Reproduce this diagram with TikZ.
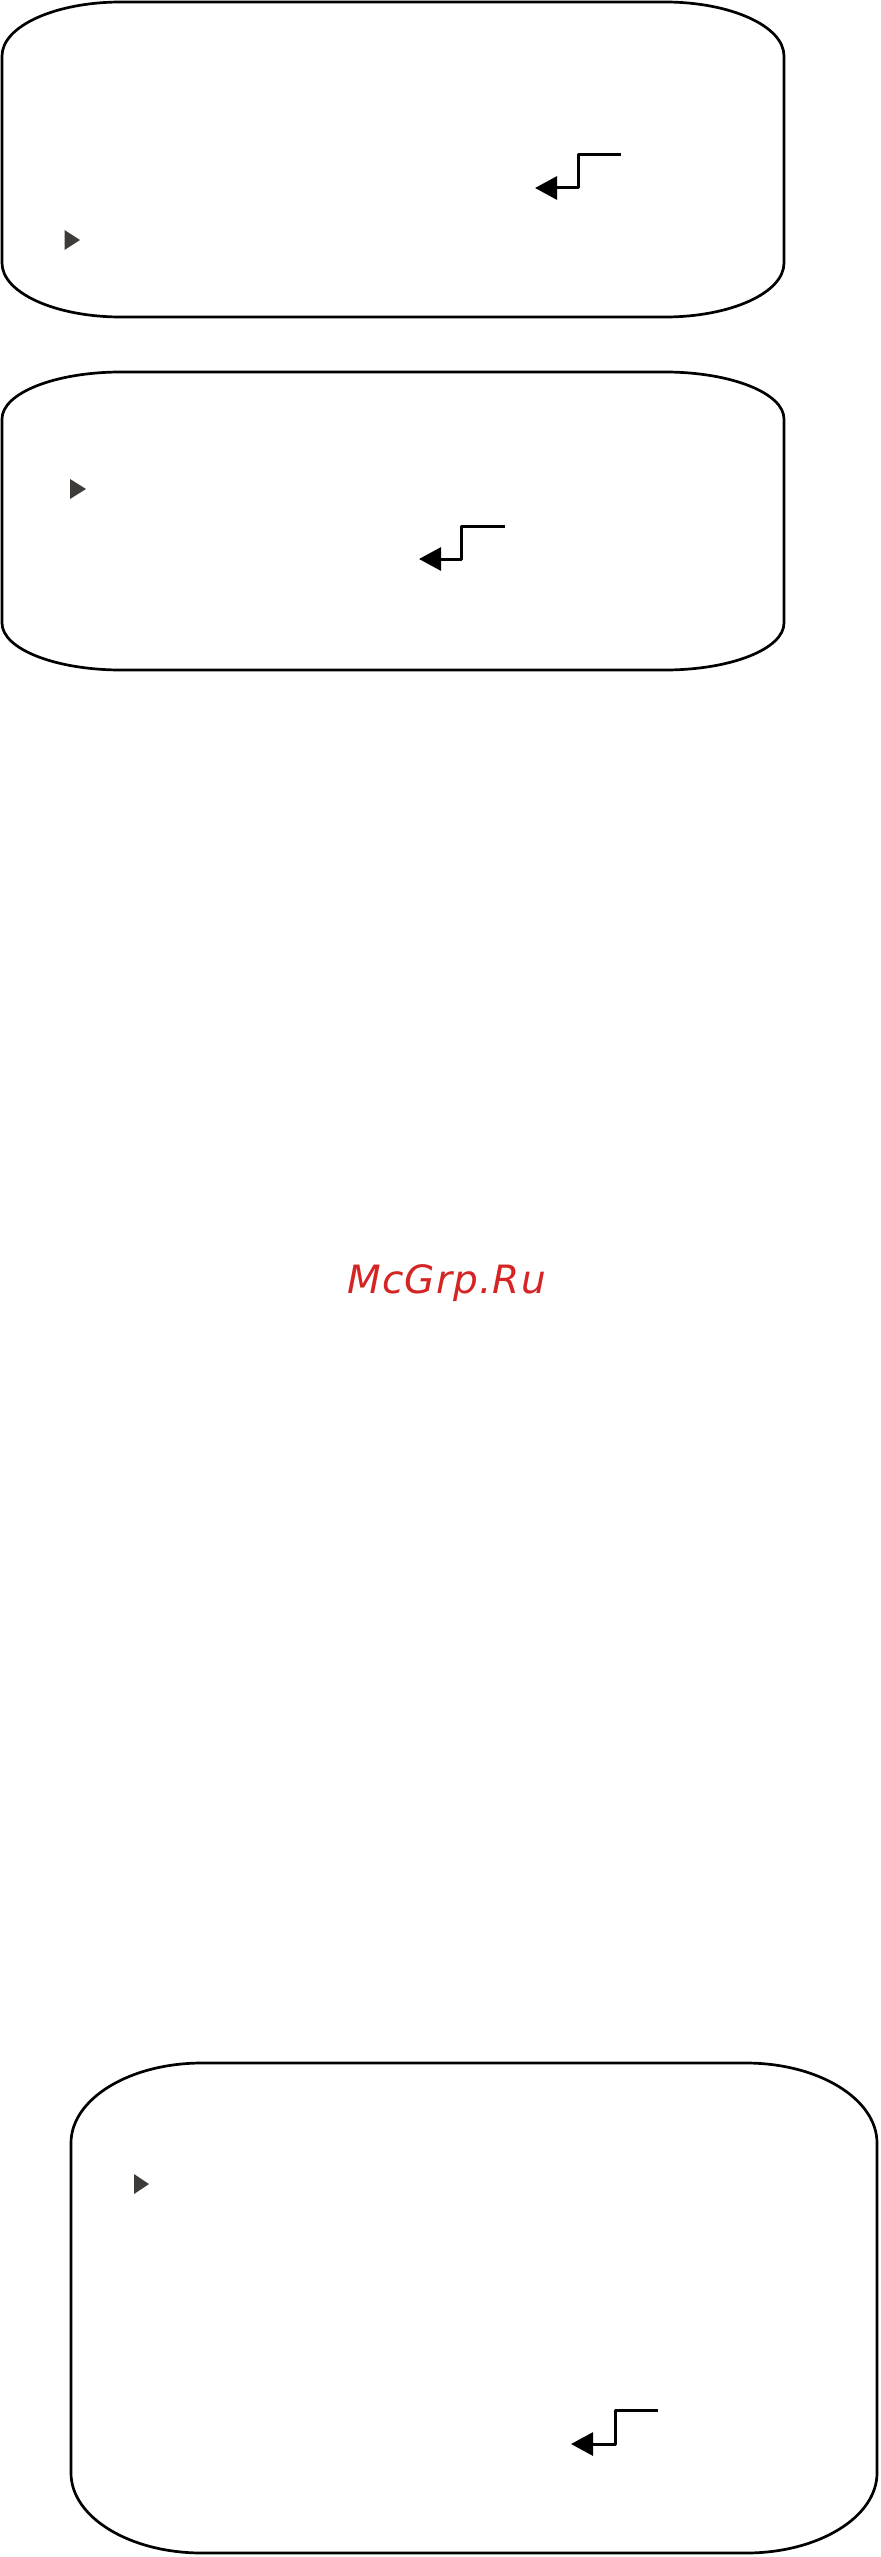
\documentclass[tikz,border=0pt]{standalone}
\usepackage{fontspec}
\usetikzlibrary{arrows.meta}
\newfontfamily\markfont[LetterSpace=3]{DejaVu Sans}
\definecolor{markred}{HTML}{D42424}
\definecolor{tipgrey}{HTML}{3E3B39}
\tikzset{
  panel/.style={line width=1.35pt, black},
  stair/.style={line width=1.5pt, line join=round, -{Triangle[length=11pt,width=11.5pt]}},
  pointer/.style={fill=tipgrey, draw=none}
}
\begin{document}
\begin{tikzpicture}[x=0.5pt,y=-0.5pt]
\useasboundingbox (0,0) rectangle (880,2557);
% top panel
\draw[panel] (121,2) -- (665,2) arc[start angle=270,end angle=360,x radius=119,y radius=54]
  -- (784,263) arc[start angle=0,end angle=90,x radius=119,y radius=54]
  -- (121,317) arc[start angle=90,end angle=180,x radius=119,y radius=54]
  -- (2,56) arc[start angle=180,end angle=270,x radius=119,y radius=54] -- cycle;
\fill[pointer] (64.5,230) -- (80,240) -- (64.5,250) -- cycle;
\coordinate (s1) at (621,155);
\coordinate (e1) at (535,188);
\draw[stair] (s1) -- (578,155) -- (578,188) -- (e1);
% middle panel
\draw[panel] (121,372) -- (665,372) arc[start angle=270,end angle=360,x radius=119,y radius=47]
  -- (784,623) arc[start angle=0,end angle=90,x radius=119,y radius=47]
  -- (121,670) arc[start angle=90,end angle=180,x radius=119,y radius=47]
  -- (2,419) arc[start angle=180,end angle=270,x radius=119,y radius=47] -- cycle;
\fill[pointer] (70,479) -- (86,489) -- (70,499) -- cycle;
\coordinate (s2) at (505,526);
\coordinate (e2) at (419,559);
\draw[stair] (s2) -- (461,526) -- (461,559) -- (e2);
% watermark
\node[anchor=base west, inner sep=0pt, text=markred, font=\markfont\itshape\fontsize{19.5}{23}\selectfont] (mark) at (347,1293) {McGrp.Ru};
% bottom panel
\draw[panel] (202,2063) -- (746,2063) arc[start angle=270,end angle=360,x radius=131,y radius=80]
  -- (877,2473) arc[start angle=0,end angle=90,x radius=131,y radius=80]
  -- (202,2553) arc[start angle=90,end angle=180,x radius=131,y radius=80]
  -- (71,2143) arc[start angle=180,end angle=270,x radius=131,y radius=80] -- cycle;
\fill[pointer] (134,2174) -- (149,2184) -- (134,2194) -- cycle;
\coordinate (s3) at (658,2410);
\coordinate (e3) at (571,2444);
\draw[stair] (s3) -- (615,2410) -- (615,2444) -- (e3);
\end{tikzpicture}
\end{document}
